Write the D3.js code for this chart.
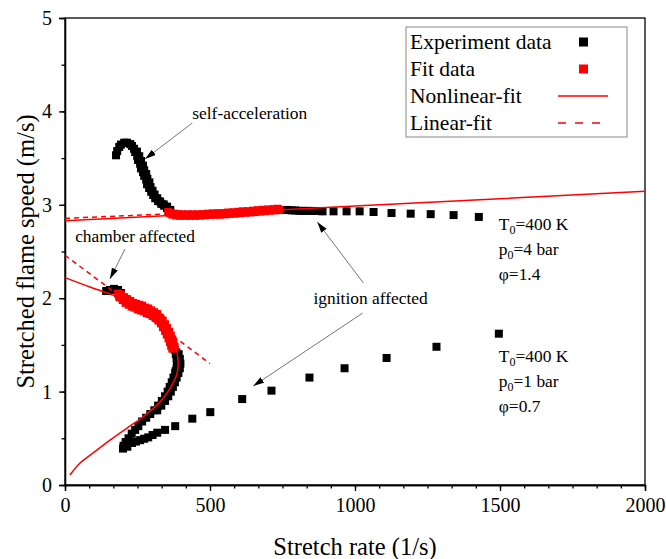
<!doctype html>
<html>
<head>
<script src="https://cdn.jsdelivr.net/npm/d3@7"></script>
<style>
  body { margin: 0; background: #fff; }
  text { font-family: "Liberation Serif", "Times New Roman", serif; fill: #000; }
</style>
</head>
<body>
<div id="chart"></div>
<script>
// tick labels
var xTicks = [0, 500, 1000, 1500, 2000];
var yTicks = [0, 1, 2, 3, 4, 5];

// T0=400 K, p0=4 bar, phi=1.4 : experiment data (black)
var upperExp = [
  [176,3.53],[180,3.575],[187,3.62],[193,3.645],[204,3.665],[214,3.665],[225,3.65],[231,3.63],
  [238,3.60],[242,3.565],[249,3.52],[252,3.48],[259,3.44],[262,3.39],[269,3.35],[273,3.31],
  [280,3.27],[283,3.22],[290,3.18],[297,3.14],[304,3.105],[311,3.07],[321,3.04],[332,3.01],
  [342,2.99],[352,2.965],[363,2.945],
  [248,3.57],[256,3.52],[262,3.47],[269,3.42],[273,3.37],[280,3.33],[284,3.28],[291,3.24],
  [295,3.19],[302,3.15],[309,3.11],[318,3.07],[328,3.035],[340,3.005],[352,2.98],
  [753,2.945],[767,2.945],[781,2.94],[794,2.94],[808,2.935],[822,2.935],[836,2.935],[850,2.934],[864,2.934],
  [888,2.93],[926,2.93],[971,2.93],[1016,2.93],[1064,2.923],[1126,2.912],[1192,2.905],[1261,2.90],
  [1340,2.89],[1427,2.87]
];
// fit data (red)
var upperFit = [
  [356,2.923],[363,2.91],[370,2.895],[376,2.905],[383,2.885],[390,2.9],[397,2.882],[404,2.898],
  [414,2.882],[423,2.898],[432,2.882],[441,2.898],[449,2.882],[458,2.898],[466,2.884],[475,2.9],
  [484,2.888],[492,2.905],[501,2.892],[510,2.908],[518,2.893],[527,2.91],[535,2.894],[544,2.912],
  [553,2.898],[562,2.917],[570,2.903],[579,2.92],[587,2.905],[596,2.925],[604,2.91],[613,2.93],
  [622,2.915],[630,2.932],[639,2.918],[648,2.937],[656,2.922],[665,2.942],[674,2.927],[682,2.947],
  [691,2.932],[700,2.95],[708,2.937],[717,2.953],[725,2.94],[733,2.958],[739,2.945]
];

// T0=400 K, p0=1 bar, phi=0.7 : experiment data (black)
var lowerExp = [
  [142,2.077],[155,2.088],[169,2.10],[183,2.088],[193,2.056],
  [378,1.45],[384,1.42],[382,1.40],[388,1.37],[385,1.35],[390,1.32],[386,1.30],[389,1.27],
  [385,1.25],[382,1.22],[380,1.20],[374,1.15],[368,1.10],[361,1.05],[354,1.00],[345,0.95],
  [334,0.90],[321,0.85],[308,0.80],[294,0.76],[280,0.72],[266,0.68],[253,0.63],[242,0.59],
  [230,0.55],[219,0.50],[209,0.46],[202,0.42],[200,0.39],
  [392,1.40],[396,1.35],[398,1.30],[396,1.25],[391,1.20],[385,1.15],[379,1.10],[372,1.05],
  [365,1.00],[356,0.95],[345,0.90],[332,0.85],[318,0.80],
  [215,0.41],[231,0.45],[245,0.465],[259,0.48],[273,0.495],[287,0.51],[302,0.535],[318,0.56],
  [345,0.59],[380,0.63],
  [439,0.71],[501,0.78],[611,0.92],[712,1.01],[843,1.15],[964,1.25],[1109,1.36],[1281,1.48],[1496,1.62]
];
// fit data (red)
var lowerFit = [
  [183,2.05],[188,2.01],[193,2.04],[199,1.98],[204,2.01],[209,1.95],[214,1.99],[220,1.93],
  [225,1.97],[230,1.91],[235,1.95],[240,1.90],[245,1.94],[251,1.88],[256,1.93],[261,1.87],
  [266,1.92],[271,1.86],[276,1.90],[282,1.84],[287,1.89],[292,1.83],[297,1.87],[302,1.81],
  [307,1.85],[313,1.79],[318,1.83],[323,1.76],[328,1.79],[331,1.73],[337,1.76],[338,1.69],
  [345,1.72],[345,1.65],[352,1.68],[351,1.61],[359,1.64],[357,1.57],[365,1.60],[362,1.53],
  [370,1.56],[366,1.49],[374,1.52],[370,1.46],[378,1.48],
  [186,2.03],[196,2.01],[206,1.99],[217,1.96],[227,1.94],[238,1.925],[248,1.91],[258,1.90],
  [269,1.89],[279,1.875],[290,1.86],[300,1.845],[310,1.83],[320,1.80],[330,1.77],[340,1.72],
  [348,1.67],[355,1.625],[361,1.58],[366,1.535],[371,1.50]
];

// fitted curves
var upperNonlinear = [[0,2.83],[500,2.908],[1000,2.987],[1500,3.066],[2000,3.145]];
var upperLinear = [[0,2.855],[750,2.955]];
var lowerNonlinear = [
  [17,0.107],[52,0.236],[97,0.343],[155,0.48],[214,0.61],[269,0.73],[328,0.89],[363,1.04],
  [387,1.20],[390,1.31],[387,1.41],[370,1.57],[345,1.71],[311,1.82],[259,1.895],[207,1.98],
  [155,2.045],[86,2.12],[0,2.22]
];
var lowerLinear = [[0,2.46],[500,1.30]];

var legendLabels = ["Experiment data", "Fit data", "Nonlinear-fit", "Linear-fit"];

// set the dimensions and margins of the graph
var margin = {top: 18, right: 21, bottom: 74, left: 65},
  width = 666 - margin.left - margin.right,
  height = 559 - margin.top - margin.bottom;

var svg = d3.select("#chart")
  .append("svg")
  .attr("width", 666)
  .attr("height", 559)
  .append("g")
    .attr("transform", "translate(" + margin.left + "," + margin.top + ")");

var x = d3.scaleLinear().domain([0, 2000]).range([0, width]);
var y = d3.scaleLinear().domain([0, 5]).range([height, 0]);

// arrow marker
svg.append("defs").append("marker")
  .attr("id", "arr")
  .attr("viewBox", "0 0 10 6")
  .attr("refX", 10).attr("refY", 3)
  .attr("markerUnits", "userSpaceOnUse")
  .attr("markerWidth", 11).attr("markerHeight", 7)
  .attr("orient", "auto")
  .append("path").attr("d", "M0,0L10,3L0,6Z").attr("fill", "#000");

// frame (top and right)
svg.append("rect")
  .attr("width", width).attr("height", height)
  .attr("fill", "none").attr("stroke", "#000").attr("stroke-width", 1.3);

// minor ticks
svg.append("g").attr("class", "minor")
  .attr("transform", "translate(0," + height + ")")
  .call(d3.axisBottom(x).tickValues(d3.range(0, 2001, 500 / 6)).tickSize(3.5).tickSizeOuter(0).tickFormat(""));
svg.append("g").attr("class", "minor")
  .call(d3.axisLeft(y).tickValues(d3.range(0, 5.01, 0.5)).tickSize(3.5).tickSizeOuter(0).tickFormat(""));

// X axis
svg.append("g").attr("class", "axis")
  .attr("transform", "translate(0," + height + ")")
  .call(d3.axisBottom(x).tickValues(xTicks).tickSize(6).tickPadding(7).tickFormat(d3.format("d")));
// Y axis
svg.append("g").attr("class", "axis")
  .call(d3.axisLeft(y).tickValues(yTicks).tickSize(6).tickPadding(7).tickFormat(d3.format("d")));

svg.selectAll(".axis, .minor")
  .attr("font-family", "Liberation Serif").attr("font-size", 20);
svg.selectAll(".axis text").attr("fill", "#000");
svg.selectAll(".axis path, .axis line, .minor path, .minor line")
  .attr("stroke", "#000").attr("stroke-width", 1.3);

// axis titles
svg.append("text")
  .attr("x", width / 2).attr("y", 537)
  .attr("text-anchor", "middle").attr("font-size", 24.5)
  .text("Stretch rate (1/s)");
svg.append("text")
  .attr("transform", "translate(-31," + (height / 2) + ") rotate(-90)")
  .attr("text-anchor", "middle").attr("font-size", 24.5)
  .text("Stretched flame speed (m/s)");

// scatter squares
function squares(data, color) {
  svg.append("g").selectAll("rect")
    .data(data)
    .enter().append("rect")
      .attr("x", function(d) { return x(d[0]) - 4; })
      .attr("y", function(d) { return y(d[1]) - 4; })
      .attr("width", 8).attr("height", 8)
      .attr("fill", color);
}
squares(upperExp, "#000");
squares(lowerExp, "#000");
squares(upperFit, "#ff0000");
squares(lowerFit, "#ff0000");

// fitted lines
var line = d3.line()
  .x(function(d) { return x(d[0]); })
  .y(function(d) { return y(d[1]); });
var curve = d3.line()
  .curve(d3.curveCatmullRom)
  .x(function(d) { return x(d[0]); })
  .y(function(d) { return y(d[1]); });

svg.append("path").attr("d", line(upperNonlinear))
  .attr("fill", "none").attr("stroke", "#ff0000").attr("stroke-width", 1.5);
svg.append("path").attr("d", line(upperLinear))
  .attr("fill", "none").attr("stroke", "#ff0000").attr("stroke-width", 1.5).attr("stroke-dasharray", "5,4");
svg.append("path").attr("d", curve(lowerNonlinear))
  .attr("fill", "none").attr("stroke", "#ff0000").attr("stroke-width", 1.5);
svg.append("path").attr("d", line(lowerLinear))
  .attr("fill", "none").attr("stroke", "#ff0000").attr("stroke-width", 1.5).attr("stroke-dasharray", "5,4");

// annotations
var notes = [
  {text: "self-acceleration", tx: 439, ty: 3.92, arrows: [[439, 3.876, 276, 3.49]]},
  {text: "chamber affected", tx: 35, ty: 2.60, arrows: [[207, 2.527, 155, 2.206]]},
  {text: "ignition affected", tx: 857, ty: 1.94, arrows: [[1029, 2.163, 870, 2.816], [1026, 1.84, 649, 1.06]]}
];
notes.forEach(function(n) {
  svg.append("text").attr("x", x(n.tx)).attr("y", y(n.ty))
    .attr("font-size", 17.4).text(n.text);
  n.arrows.forEach(function(a) {
    svg.append("line")
      .attr("x1", x(a[0])).attr("y1", y(a[1]))
      .attr("x2", x(a[2])).attr("y2", y(a[3]))
      .attr("stroke", "#666").attr("stroke-width", 0.9)
      .attr("marker-end", "url(#arr)");
  });
});

// condition labels
function conditions(xv, yv, p, phi) {
  var g = svg.append("g").attr("font-size", 17.4);
  var lines = [["T", "=400 K"], ["p", "=" + p + " bar"], [null, "\u03c6=" + phi]];
  lines.forEach(function(l, i) {
    var t = g.append("text").attr("x", x(xv)).attr("y", y(yv) + i * 25);
    if (l[0]) {
      t.append("tspan").text(l[0]);
      t.append("tspan").attr("font-size", 12).attr("dy", 4).text("0");
      t.append("tspan").attr("dy", -4).text(l[1]);
    } else {
      t.text(l[1]);
    }
  });
}
conditions(1496, 2.73, "4", "1.4");
conditions(1496, 1.317, "1", "0.7");

// legend
var lg = svg.append("g").attr("transform", "translate(" + (406 - margin.left) + "," + (27 - margin.top) + ")");
lg.append("rect").attr("width", 221).attr("height", 110)
  .attr("fill", "#fff").attr("stroke", "#888").attr("stroke-width", 1);
legendLabels.forEach(function(lab, i) {
  var cy = 15 + i * 27;
  lg.append("text").attr("x", 4).attr("y", cy + 7).attr("font-size", 21.5).text(lab);
  if (i < 2) {
    lg.append("rect").attr("x", 173).attr("y", cy - 4.5).attr("width", 9).attr("height", 9)
      .attr("fill", i === 0 ? "#000" : "#ff0000");
  } else {
    lg.append("line").attr("x1", 152).attr("x2", 202).attr("y1", cy).attr("y2", cy)
      .attr("stroke", "#ff0000").attr("stroke-width", 1.5)
      .attr("stroke-dasharray", i === 3 ? "8,9" : null);
  }
});
</script>
</body>
</html>
